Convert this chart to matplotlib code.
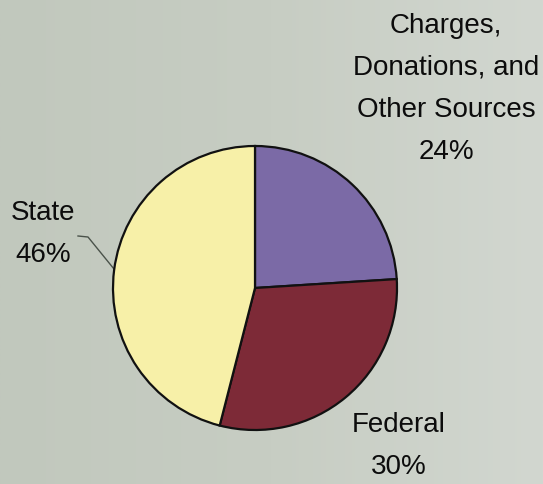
import numpy as np
import matplotlib
matplotlib.use("Agg")
import matplotlib.pyplot as plt
from matplotlib.colors import LinearSegmentedColormap

# funding shares, clockwise from 12 o'clock
sources = ["Charges,\nDonations, and\nOther Sources", "Federal", "State"]
shares = [24, 30, 46]
colors = ["#7b6aa6", "#7d2a37", "#f7f0a8"]

W, H = 543, 485
fig = plt.figure(figsize=(W / 100, H / 100), dpi=100)

# soft grey-green backdrop, a bit lighter towards the right
bg = fig.add_axes([0, 0, 1, 1])
grad = np.linspace(0, 1, 256).reshape(1, -1)
cmap = LinearSegmentedColormap.from_list("bg", ["#c1c8bd", "#c7cdc3", "#d2d7d0"])
bg.imshow(grad, aspect="auto", cmap=cmap, extent=[0, 1, 0, 1])
bg.set_xlim(0, 1)
bg.set_ylim(0, 1)
bg.axis("off")

# pie centred at (255, 289) px, radius 142 px
cx, cy, r = 255, 289, 142
ax = fig.add_axes([(cx - r) / W, (H - cy - r) / H, 2 * r / W, 2 * r / H])
ax.pie(shares, colors=colors, startangle=90, counterclock=False,
       wedgeprops=dict(edgecolor="#111111", linewidth=1.6))
ax.set_xlim(-1, 1)
ax.set_ylim(-1, 1)
ax.set_aspect("equal")
ax.axis("off")

font = dict(family="Liberation Sans", fontsize=20, color="#0c0c0c",
            ha="center", va="center", linespacing=1.8)

def px(x, y):
    return x / W, 1 - y / H

fig.text(*px(446, 89), f"{sources[0]}\n{shares[0]}%", **font)
fig.text(*px(399, 446), f"{sources[1]}\n{shares[1]}%", **font)
fig.text(*px(43, 234), f"{sources[2]}\n{shares[2]}%", **font)

# leader line from the State label to its slice
lx = np.array([78, 88, 114]) / W
ly = 1 - np.array([237, 238, 270]) / H
bg.plot(lx, ly, color="#4a524a", linewidth=1.0, transform=fig.transFigure)

fig.savefig("out.png", dpi=100)
